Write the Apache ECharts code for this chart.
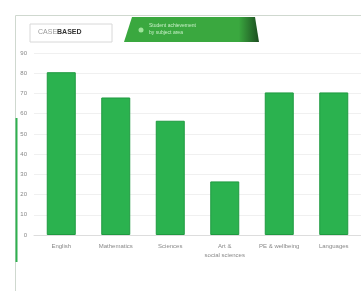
<!DOCTYPE html>
<html><head><meta charset="utf-8">
<script src="https://cdn.jsdelivr.net/npm/echarts@6/dist/echarts.min.js"></script>
<style>html,body{margin:0;padding:0;background:#fff}#c{width:361px;height:291px}</style>
</head><body><div id="c"></div>
<script>
const categories = ["English", "Mathematics", "Sciences", "Art &\nsocial sciences", "PE & wellbeing", "Languages"];
const values = [80.5, 68, 56.5, 26.5, 70.5, 70.5];
const yTicks = [0, 10, 20, 30, 40, 50, 60, 70, 80, 90];

const chart = echarts.init(document.getElementById('c'), null, {renderer: 'canvas'});
chart.setOption({
  animation: false,
  grid: {left: 34, right: 0, top: 53, bottom: 56},
  graphic: [
    {type: 'rect', shape: {x: 15.5, y: 15.5, width: 360, height: 290}, style: {fill: 'none', stroke: '#cfd8cf', lineWidth: 1}},
    {type: 'line', shape: {x1: 16.5, y1: 118, x2: 16.5, y2: 262}, style: {stroke: '#2fb04f', lineWidth: 2}},
    {type: 'rect', shape: {x: 30, y: 24, width: 82, height: 18}, style: {fill: '#fff', stroke: '#d8d8d8', lineWidth: 1}},
    {type: 'text', left: 38, top: 29, style: {text: '{a|CASE}{b|BASED}', rich: {a: {font: '7px "Liberation Sans"', fill: '#999'}, b: {font: 'bold 7px "Liberation Sans"', fill: '#333'}}}},
    {type: 'polygon', shape: {points: [[132, 17], [255, 17], [259, 42], [124, 42]]},
      style: {fill: {type: 'linear', x: 0, y: 0, x2: 1, y2: 0, colorStops: [{offset: 0, color: '#3aa83f'}, {offset: 0.85, color: '#3aa83f'}, {offset: 1, color: '#1c4d20'}]}}},
    {type: 'circle', shape: {cx: 141, cy: 30, r: 2.5}, style: {fill: '#9ee39a'}},
    {type: 'text', left: 149, top: 22, style: {text: 'Student achievement\nby subject area', font: '5px "Liberation Sans"', fill: '#c8f0c8', lineHeight: 7}}
  ],
  xAxis: {
    type: 'category', data: categories,
    axisLine: {lineStyle: {color: '#dddddd'}},
    axisTick: {show: false},
    axisLabel: {fontSize: 6, color: '#888', interval: 0, margin: 7, lineHeight: 9, fontFamily: 'Liberation Sans'}
  },
  yAxis: {
    type: 'value', min: 0, max: 90, interval: 10,
    axisLine: {show: false}, axisTick: {show: false},
    splitLine: {lineStyle: {color: '#f0f0f0'}},
    axisLabel: {fontSize: 6, color: '#888', margin: 7, fontFamily: 'Liberation Sans',
      formatter: v => yTicks.includes(v) ? String(v) : ''}
  },
  series: [{
    type: 'bar', data: values, barWidth: 29,
    itemStyle: {color: '#2bb24f', borderColor: '#1f9a40', borderWidth: 1}
  }]
});
</script></body></html>
